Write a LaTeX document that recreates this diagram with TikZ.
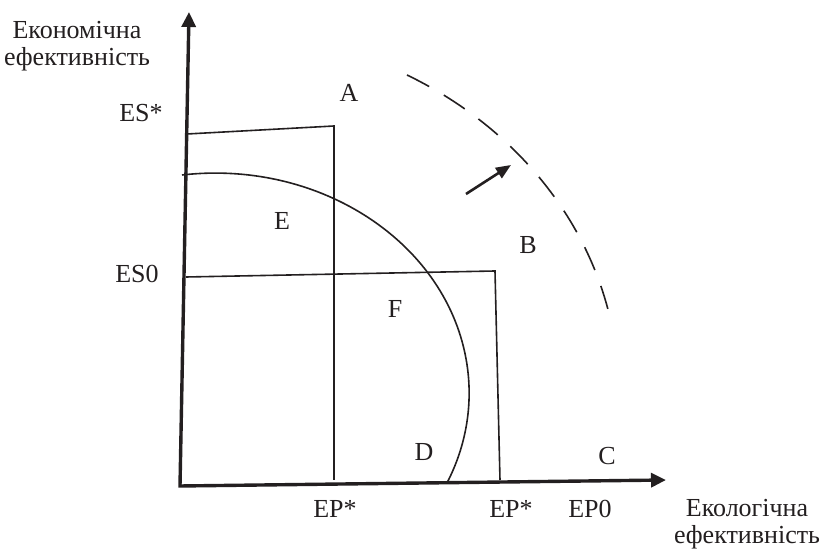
\documentclass[tikz,border=0pt]{standalone}
\usepackage{fontspec}
\setmainfont{Liberation Serif}
\usetikzlibrary{arrows.meta}

\definecolor{inkgray}{HTML}{231F20}

\begin{document}
\begin{tikzpicture}[x=0.5pt, y=-0.5pt, color=inkgray,
      font={\fontsize{13}{13.3}\selectfont},
      axis/.style={line width=1.7pt, {Triangle[length=7.5pt,width=7pt]}-{Triangle[length=7.5pt,width=7pt]}},
      guide/.style={line width=0.8pt},
      curve/.style={line width=0.8pt},
      lbl/.style={inner sep=0pt}]
    \useasboundingbox (0,0) rectangle (821,550);
    % axes
    \coordinate (O) at (180,486);
    \coordinate (ytop) at (189,12);
    \coordinate (xend) at (666,480);
    \draw[axis] (ytop) -- (O) -- (xend);
    % guide lines
    \coordinate (esstar) at (187,134);
    \coordinate (acorner) at (334,126);
    \coordinate (epstar) at (334,480);
    \draw[guide] (esstar) -- (acorner) -- (epstar);
    \coordinate (eszero) at (186,277);
    \coordinate (bcorner) at (495,271);
    \coordinate (epstarb) at (500,480);
    \draw[guide] (eszero) -- (bcorner) -- (epstarb);
    % frontier now and shifted frontier
    \coordinate (front) at (182,175);
    \draw[curve] (front) arc[start angle=97.5, end angle=-24.1, x radius=127pt, y radius=110pt];
    \coordinate (newfront) at (407,75);
    \draw[curve, dash pattern=on 12.5pt off 8.5pt] (newfront) arc[start angle=61.6, end angle=13.4, x radius=202pt, y radius=180.5pt];
    \coordinate (shiftfrom) at (466,194);
    \coordinate (shiftto) at (511,165);
    \draw[line width=1.3pt, -{Triangle[length=7.5pt,width=6pt]}] (shiftfrom) -- (shiftto);
    % labels
    \node[lbl, align=center, anchor=north] (yname) at (77,21) {Економічна\\ефективність};
    \node[lbl, align=center, anchor=north] (xname) at (747,499) {Екологічна\\ефективність};
    \node[lbl] (esstarlbl) at (141,113) {ES*};
    \node[lbl] (eszerolbl) at (137,274) {ES0};
    \node[lbl] (epstarlbl) at (335,509) {EP*};
    \node[lbl] (epstarblbl) at (511,509) {EP*};
    \node[lbl] (epzerolbl) at (590,509) {EP0};
    \node[lbl] (A) at (349,93) {A};
    \node[lbl] (B) at (528,245) {B};
    \node[lbl] (C) at (607,456) {C};
    \node[lbl] (D) at (424,452) {D};
    \node[lbl] (E) at (282,221) {E};
    \node[lbl] (F) at (395,309) {F};
  \end{tikzpicture}
\end{document}
